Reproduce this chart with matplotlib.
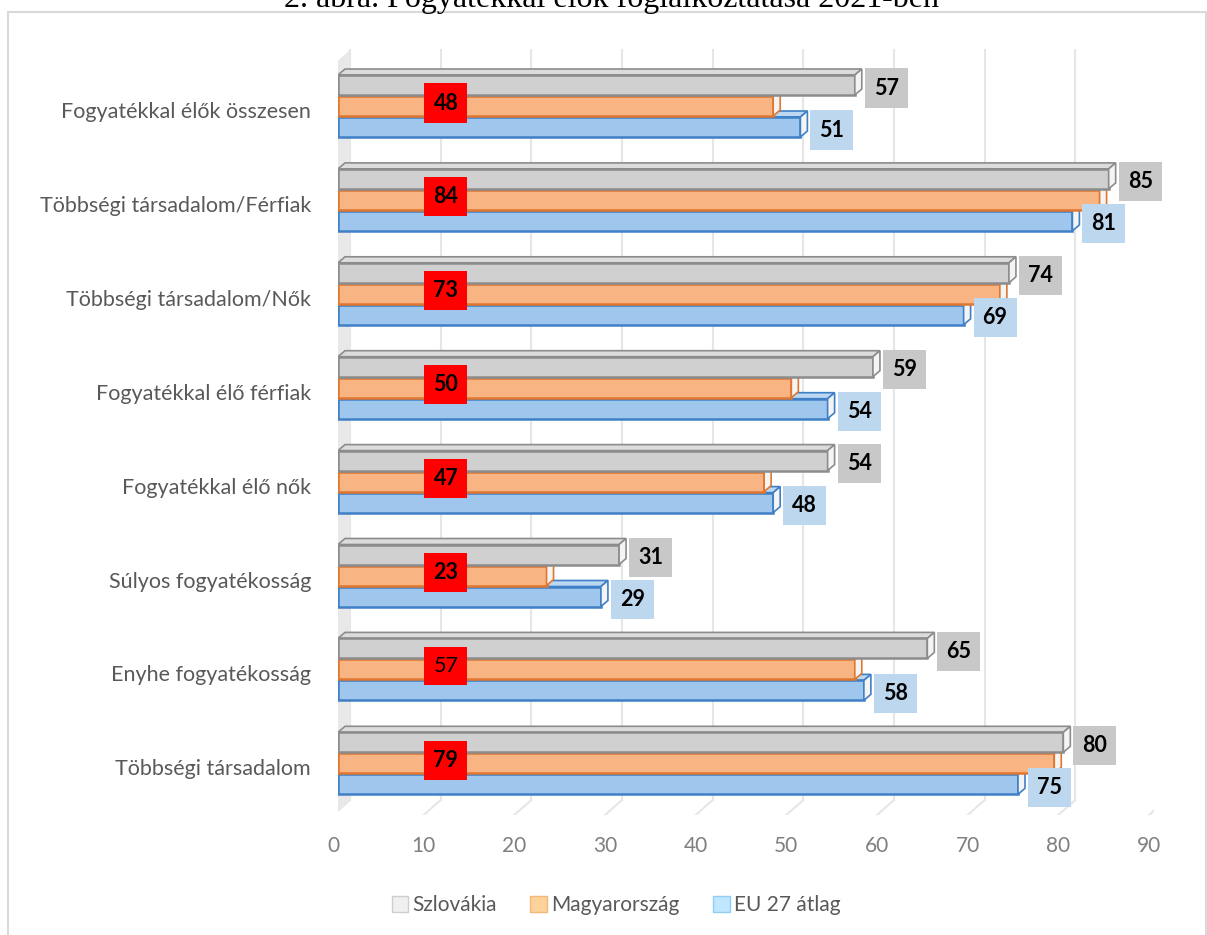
import matplotlib
matplotlib.use('Agg')
import matplotlib.pyplot as plt
from matplotlib.patches import Polygon, Rectangle, Patch
from matplotlib.lines import Line2D

categories = ['Fogyatékkal élők összesen', 'Többségi társadalom/Férfiak',
              'Többségi társadalom/Nők', 'Fogyatékkal élő férfiak',
              'Fogyatékkal élő nők', 'Súlyos fogyatékosság',
              'Enyhe fogyatékosság', 'Többségi társadalom']
szlovakia = [57, 85, 74, 59, 54, 31, 65, 80]
magyarorszag = [48, 84, 73, 50, 47, 23, 57, 79]
eu27 = [51, 81, 69, 54, 48, 29, 58, 75]
series_names = ['Szlovákia', 'Magyarország', 'EU 27 átlag']
xticks = [0, 10, 20, 30, 40, 50, 60, 70, 80, 90]
title = '2. ábra. Fogyatékkal élők foglalkoztatása 2021-ben'

FONT = 'Lato'
W, H = 1207, 935
fig = plt.figure(figsize=(W / 100, H / 100), dpi=100)

# axes placed so that data 0 -> px 338, 90 -> px 1154
x0_px, x90_px = 338, 1154
top_px, bot_px = 45, 815
ax = fig.add_axes([x0_px / W, 1 - bot_px / H, (x90_px - x0_px) / W, (bot_px - top_px) / H])
ax.set_xlim(0, 90)
sp = 93.9
c0 = 112
ax.set_ylim((bot_px - c0) / sp, (top_px - c0) / sp)
ax.axis('off')

upx = (x90_px - x0_px) / 90.0   # px per x unit
upy = sp                         # px per y unit

# back wall grid + floor
back_dx, back_dy = 12 / upx, 15 / upy
floor_y = (bot_px - c0) / sp
wall_top = (50 - c0) / sp
for t in xticks:
    xb = t + back_dx
    ax.add_line(Line2D([xb, xb], [wall_top, floor_y - back_dy], color='#e6e6e6', lw=1.5, zorder=0))
    ax.add_line(Line2D([xb, t - 5 / upx], [floor_y - back_dy, floor_y], color='#e6e6e6', lw=1.5, zorder=0))
wall = Polygon([(-5 / upx, wall_top + back_dy), (back_dx, wall_top),
                (back_dx, floor_y - back_dy), (-5 / upx, floor_y)],
               closed=True, facecolor='#e8e8e8', edgecolor='none', zorder=0)
ax.add_patch(wall)

# 3D-ish bars
styles = [
    dict(face='#d0d0d0', top='#dcdcdc', edge='#8c8c8c', off=-27, lab='#c8c8c8'),
    dict(face='#f8b482', top='#fbc9a2', edge='#e0762f', off=-6, lab='#ff0000'),
    dict(face='#9fc6ec', top='#bcd7f2', edge='#3f7fc6', off=15, lab='#bdd7ee'),
]
bh = 20 / upy
ddx, ddy = 7 / upx, 6 / upy


def bar3d(yc, v, st, z):
    yt, yb = yc - bh / 2, yc + bh / 2
    ax.add_patch(Polygon([(0, yt), (v, yt), (v + ddx, yt - ddy), (ddx, yt - ddy)],
                         closed=True, facecolor=st['top'], edgecolor=st['edge'], lw=1.2, zorder=z))
    ax.add_patch(Rectangle((0, yt), v, bh, facecolor=st['face'], edgecolor=st['edge'], lw=1.8, zorder=z))
    ax.add_patch(Polygon([(v, yt), (v, yb), (v + ddx, yb - ddy), (v + ddx, yt - ddy)],
                         closed=True, facecolor='#f4f4f4', edgecolor=st['edge'], lw=1.2, zorder=z))


all_vals = [szlovakia, magyarorszag, eu27]
for i in range(len(categories)):
    for k in (2, 1, 0):
        st = styles[k]
        yc = i + st['off'] / upy
        bar3d(yc, all_vals[k][i], st, z=3 + (2 - k))

for i in range(len(categories)):
    # Szlovákia / EU labels right of the bar end
    for k in (0, 2):
        st = styles[k]
        yc = i + (st['off'] + 3) / upy
        ax.annotate(str(all_vals[k][i]), (all_vals[k][i], yc), xytext=(19, 0),
                    textcoords='offset pixels', ha='left', va='center',
                    fontsize=15.5, fontweight='bold', family=FONT, color='black', zorder=10,
                    bbox=dict(boxstyle='square,pad=0.42', facecolor=st['lab'], edgecolor='none'))
    # Magyarország labels in red boxes
    ax.text(11.9, i - 9 / upy, str(magyarorszag[i]), ha='center', va='center',
            fontsize=15.5, fontweight='normal' if i == 6 else 'bold', family=FONT,
            color='black', zorder=10,
            bbox=dict(boxstyle='square,pad=0.42', facecolor='#ff0000', edgecolor='none'))
    ax.annotate(categories[i], (0, i), xytext=(-27, 0), textcoords='offset pixels',
                ha='right', va='center', fontsize=15.5, family=FONT, color='#595959')

for t in xticks:
    ax.annotate(str(t), (t, floor_y), xytext=(-5, -31), textcoords='offset pixels',
                ha='center', va='center', fontsize=15, family=FONT, color='#7f7f7f')

handles = [Patch(facecolor='#f0f0f0', edgecolor='#cfcfcf'),
           Patch(facecolor='#fdd39c', edgecolor='#f4b67a'),
           Patch(facecolor='#bfe7ff', edgecolor='#93cdf2')]
fig.legend(handles, series_names, loc='center', bbox_to_anchor=(616 / W, 1 - 905 / H),
           ncol=3, frameon=False, handlelength=0.8, handleheight=0.8, handletextpad=0.2,
           columnspacing=1.6, prop={'family': FONT, 'size': 15}, labelcolor='#595959')

# chart border and clipped caption (cut at the top edge as in the source image)
fig.add_artist(Rectangle((8 / W, -0.01), (W - 9) / W, 1 - 12 / H + 0.01, transform=fig.transFigure,
                         facecolor='none', edgecolor='#d9d9d9', lw=1.5))
fig.text(612 / W, 1 - 7 / H, title, ha='center', va='baseline', fontsize=23,
         family='Liberation Serif', color='black')

fig.savefig('out.png', dpi=100)
